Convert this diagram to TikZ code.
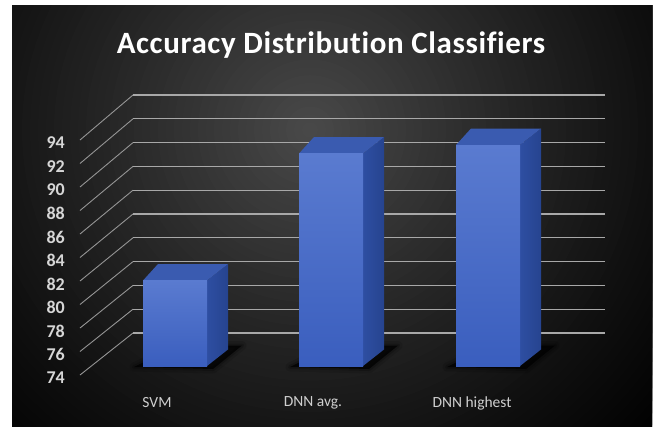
\documentclass[tikz,border=0pt]{standalone}
\usepackage{fontspec}
\setmainfont{Carlito}[Ligatures=NoCommon]
\definecolor{frontTop}{HTML}{5A7BD0}
\definecolor{frontBot}{HTML}{3A5EBE}
\definecolor{topFace}{HTML}{3A5BB0}
\definecolor{sideA}{HTML}{2E4EA2}
\definecolor{sideB}{HTML}{26448F}
\definecolor{gridH}{HTML}{A8A8A8}
\definecolor{gridD}{HTML}{959595}
\definecolor{labelC}{HTML}{D6D6D6}
\definecolor{catC}{HTML}{CFCFCF}
\definecolor{bg0}{HTML}{4A4A4A}
\tikzset{
  hline/.style={draw=gridH,line width=1.2pt},
  dline/.style={draw=gridD,line width=0.9pt},
  ylab/.style={anchor=east,text=labelC,font=\fontsize{18}{18}\selectfont\bfseries,inner sep=0pt},
  catlab/.style={anchor=center,text=catC,font=\fontsize{15.5}{15.5}\selectfont,inner sep=0pt},
  titlestyle/.style={anchor=base,text=white,inner sep=0pt,
    font=\fontsize{31}{31}\selectfont\bfseries\addfontfeature{LetterSpace=2}},
}
\newcommand\barbox[5]{% name, xl, xr, ytop, ybot
  \pgfmathsetmacro\xl{#2}\pgfmathsetmacro\xr{#3}%
  \pgfmathsetmacro\yt{#4}\pgfmathsetmacro\yb{#5}%
  \pgfmathsetmacro\xlb{\xl+15}\pgfmathsetmacro\xrb{\xr+21}%
  \pgfmathsetmacro\ytb{\yt-16.5}\pgfmathsetmacro\ybb{\yb-16.5}%
  \coordinate (#1s1) at ({\xl-9},{\yb+1});
  \coordinate (#1s2) at ({\xr+6},{\yb+3});
  \coordinate (#1s3) at ({\xrb+14},{\ybb-4});
  \coordinate (#1s4) at ({\xlb+20},{\ybb-4});
  \draw[black,opacity=0.12,line width=9pt,line join=round] (#1s1)--(#1s2)--(#1s3)--(#1s4)--cycle;
  \draw[black,opacity=0.2,line width=4pt,line join=round] (#1s1)--(#1s2)--(#1s3)--(#1s4)--cycle;
  \fill[black,opacity=0.75] (#1s1)--(#1s2)--(#1s3)--(#1s4)--cycle;
  \coordinate (#1fl) at (\xl,\yt);
  \coordinate (#1fr) at (\xr,\yt);
  \coordinate (#1bl) at (\xlb,\ytb);
  \coordinate (#1br) at (\xrb,\ytb);
  \coordinate (#1dl) at (\xl,\yb);
  \coordinate (#1dr) at (\xr,\yb);
  \coordinate (#1db) at (\xrb,\ybb);
  \shade[left color=sideA,right color=sideB] (#1fr)--(#1br)--(#1db)--(#1dr)--cycle;
  \fill[topFace] (#1fl)--(#1bl)--(#1br)--(#1fr)--cycle;
  \shade[top color=frontTop,bottom color=frontBot] (#1fl) rectangle (#1dr);
}
\begin{document}
\begin{tikzpicture}[x=1pt,y=-1pt]
\useasboundingbox (0,0) rectangle (656,426);
\fill[white] (0,0) rectangle (656,426);
\begin{scope}
  \clip (12,5) rectangle (652,426);
  \fill[black] (12,5) rectangle (652,426);
  \foreach \k in {59,58,...,1} {
    \pgfmathsetmacro\t{\k/60}
    \pgfmathsetmacro\p{100*(1-\t)^1.2}
    \fill[bg0!\p!black] (310,130) ellipse ({480*\t} and {470*\t});
  }
\end{scope}
% title
\node[titlestyle] (title) at (331,53.3) {Accuracy Distribution Classifiers};
% grid and axis labels
\foreach \i in {0,...,10} {
  \pgfmathsetmacro\yf{375-23.5*\i}
  \pgfmathsetmacro\yb{333-23.8*\i}
  \pgfmathtruncatemacro\v{74+2*\i}
  \coordinate (gf\i) at (80,\yf);
  \coordinate (gb\i) at (133,\yb);
  \coordinate (ge\i) at (605,\yb);
  \draw[dline] (gf\i) -- (gb\i);
  \draw[hline] (gb\i) -- (ge\i);
  \node[ylab] (y\i) at (65,\yf+3) {\v};
}
% bars
\barbox{svm}{143}{207}{280.5}{366}
\barbox{avg}{299}{363}{153.5}{366}
\barbox{hi}{456}{520}{145}{366}
% category labels
\node[catlab] (c1) at (157,403) {SVM};
\node[catlab] (c2) at (313,403) {DNN avg.};
\node[catlab] (c3) at (472,403) {DNN highest};
\end{tikzpicture}
\end{document}
